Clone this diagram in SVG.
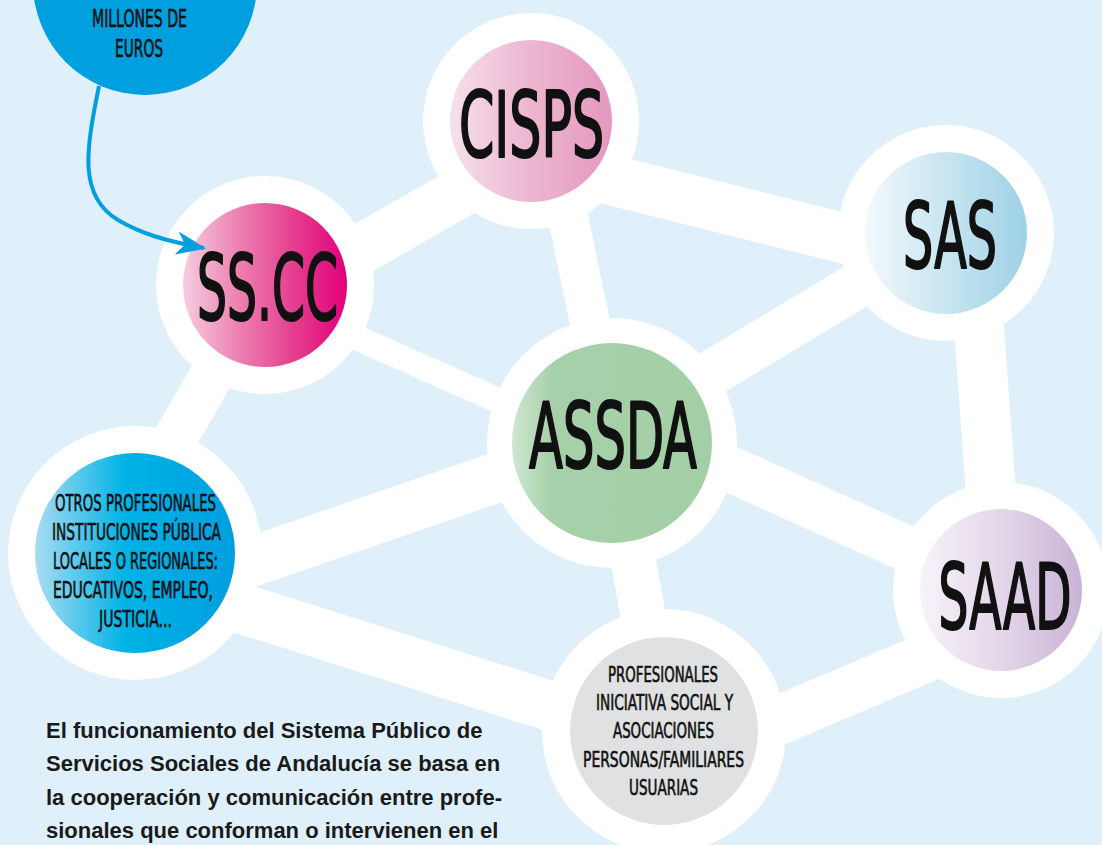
<svg xmlns="http://www.w3.org/2000/svg" width="1102" height="845" viewBox="0 0 1102 845">
<defs>
<linearGradient id="gCisps" x1="0" y1="0" x2="1" y2="0"><stop offset="0" stop-color="#f6e0eb"/><stop offset="0.5" stop-color="#ecb6d0"/><stop offset="1" stop-color="#e498be"/></linearGradient>
<linearGradient id="gSas" x1="0" y1="0" x2="1" y2="0"><stop offset="0" stop-color="#f3f9fc"/><stop offset="0.5" stop-color="#c8e5f0"/><stop offset="1" stop-color="#9ed1e6"/></linearGradient>
<linearGradient id="gSscc" x1="0" y1="0" x2="1" y2="0"><stop offset="0" stop-color="#f6cde0"/><stop offset="0.35" stop-color="#ec7eb0"/><stop offset="0.7" stop-color="#e43a8c"/><stop offset="1" stop-color="#e1007a"/></linearGradient>
<linearGradient id="gAssda" x1="0" y1="0" x2="1" y2="0"><stop offset="0" stop-color="#cfe6cf"/><stop offset="0.2" stop-color="#a6d0a9"/><stop offset="1" stop-color="#a3cfa6"/></linearGradient>
<linearGradient id="gOtros" x1="0" y1="0" x2="1" y2="0"><stop offset="0" stop-color="#a8dcf2"/><stop offset="0.45" stop-color="#00b3e6"/><stop offset="1" stop-color="#009ee0"/></linearGradient>
<linearGradient id="gSaad" x1="0" y1="0" x2="1" y2="0"><stop offset="0" stop-color="#f7f3f9"/><stop offset="0.5" stop-color="#e3d6e9"/><stop offset="1" stop-color="#c9b3d7"/></linearGradient>
<marker id="arrow" markerUnits="userSpaceOnUse" markerWidth="30" markerHeight="24" viewBox="0 0 28 22" refX="26" refY="11" orient="auto">
<path d="M0,0 L28,11 L0,22 L8,11 Z" fill="#009fe0"/>
</marker>
</defs>
<style>
.ring{fill:#ffffff}
.band{stroke:#ffffff;stroke-linecap:butt;fill:none}
.big{font-family:"DejaVu Sans Condensed","Liberation Sans",sans-serif;font-size:91px;fill:#111111;stroke:#111111;stroke-width:2.2px;stroke-linejoin:round;text-anchor:middle}
.small{font-family:"DejaVu Sans Condensed","Liberation Sans",sans-serif;fill:#111111;stroke:#111111;stroke-width:0.6px;text-anchor:middle}
.para{font-family:"Liberation Sans",Arial,sans-serif;font-weight:bold;font-size:22px;fill:#1a1a1a}
</style>
<rect x="0" y="0" width="1102" height="845" fill="#dff0fa"/>
<g id="connectors">
<line class="band" x1="265" y1="304" x2="531" y2="152" stroke-width="50"/>
<line class="band" x1="265" y1="297" x2="612" y2="451" stroke-width="25"/>
<line class="band" x1="264" y1="285" x2="109" y2="553" stroke-width="44"/>
<line class="band" x1="531" y1="160" x2="946" y2="264" stroke-width="50"/>
<line class="band" x1="548" y1="121" x2="615" y2="443" stroke-width="40"/>
<line class="band" x1="946" y1="232" x2="612" y2="433" stroke-width="46"/>
<line class="band" x1="972" y1="233" x2="998" y2="590" stroke-width="50"/>
<line class="band" x1="612" y1="416" x2="1001" y2="591" stroke-width="46"/>
<line class="band" x1="612" y1="438" x2="140" y2="600" stroke-width="50"/>
<line class="band" x1="612" y1="443" x2="664" y2="731" stroke-width="45"/>
<line class="band" x1="135" y1="575" x2="664" y2="742" stroke-width="50"/>
<line class="band" x1="664" y1="769" x2="1001" y2="626" stroke-width="49"/>
</g>
<g id="node-millones">
<circle cx="145" cy="-17" r="112" fill="#009fe0"/>
<text class="small" x="139.5" y="27" font-size="24" textLength="95" lengthAdjust="spacingAndGlyphs">MILLONES DE</text>
<text class="small" x="139" y="56.5" font-size="24" textLength="48" lengthAdjust="spacingAndGlyphs">EUROS</text>
</g>
<g id="node-cisps">
<circle class="ring" cx="531" cy="121" r="108"/>
<circle cx="531" cy="121" r="81" fill="url(#gCisps)"/>
<text class="big" transform="translate(531.5 157) scale(0.6 1)" x="0" y="0" textLength="241.7" lengthAdjust="spacingAndGlyphs">CISPS</text>
</g>
<g id="node-sas">
<circle class="ring" cx="946" cy="233" r="108"/>
<circle cx="946" cy="233" r="81" fill="url(#gSas)"/>
<text class="big" transform="translate(950 268) scale(0.6 1)" x="0" y="0" textLength="156.7" lengthAdjust="spacingAndGlyphs">SAS</text>
</g>
<g id="node-sscc">
<circle class="ring" cx="265" cy="285" r="109"/>
<circle cx="265" cy="285" r="82" fill="url(#gSscc)"/>
<text class="big" transform="translate(267.5 320) scale(0.6 1)" x="0" y="0" textLength="235" lengthAdjust="spacingAndGlyphs">SS.CC</text>
</g>
<g id="node-assda">
<circle class="ring" cx="612" cy="443" r="125"/>
<circle cx="612" cy="443" r="100" fill="url(#gAssda)"/>
<text class="big" transform="translate(613 468) scale(0.6 1)" x="0" y="0" textLength="280" lengthAdjust="spacingAndGlyphs">ASSDA</text>
</g>
<g id="node-otros">
<circle class="ring" cx="135" cy="553" r="127"/>
<circle cx="135" cy="553" r="100" fill="url(#gOtros)"/>
<text class="small" font-size="23" x="135.5" y="511" textLength="161" lengthAdjust="spacingAndGlyphs">OTROS PROFESIONALES</text>
<text class="small" font-size="23" x="136.5" y="540" textLength="169" lengthAdjust="spacingAndGlyphs">INSTITUCIONES PÚBLICA</text>
<text class="small" font-size="23" x="135.5" y="569" textLength="165" lengthAdjust="spacingAndGlyphs">LOCALES O REGIONALES:</text>
<text class="small" font-size="23" x="133" y="598" textLength="160" lengthAdjust="spacingAndGlyphs">EDUCATIVOS, EMPLEO,</text>
<text class="small" font-size="23" x="135.5" y="627" textLength="73" lengthAdjust="spacingAndGlyphs">JUSTICIA...</text>
</g>
<g id="node-saad">
<circle class="ring" cx="1001" cy="590" r="108"/>
<circle cx="1001" cy="590" r="81" fill="url(#gSaad)"/>
<text class="big" transform="translate(1005 629) scale(0.6 1)" x="0" y="0" textLength="221.7" lengthAdjust="spacingAndGlyphs">SAAD</text>
</g>
<g id="node-profesionales">
<circle class="ring" cx="664" cy="731" r="122"/>
<circle cx="664" cy="731" r="94" fill="#e0e1e3"/>
<text class="small" font-size="21" x="663" y="682" textLength="110" lengthAdjust="spacingAndGlyphs">PROFESIONALES</text>
<text class="small" font-size="21" x="664.5" y="710" textLength="137" lengthAdjust="spacingAndGlyphs">INICIATIVA SOCIAL Y</text>
<text class="small" font-size="21" x="663.5" y="738" textLength="101" lengthAdjust="spacingAndGlyphs">ASOCIACIONES</text>
<text class="small" font-size="21" x="663.5" y="767" textLength="161" lengthAdjust="spacingAndGlyphs">PERSONAS/FAMILIARES</text>
<text class="small" font-size="21" x="663.5" y="795" textLength="69" lengthAdjust="spacingAndGlyphs">USUARIAS</text>
</g>
<g id="arrow-connector">
<path d="M99,86 C86,150 78,196 118,220 C140,233 165,241 204,248" fill="none" stroke="#009fe0" stroke-width="4" marker-end="url(#arrow)"/>
</g>
<g id="caption">
<text class="para" x="46" y="738">El funcionamiento del Sistema Público de</text>
<text class="para" x="46" y="771">Servicios Sociales de Andalucía se basa en</text>
<text class="para" x="46" y="805">la cooperación y comunicación entre profe-</text>
<text class="para" x="46" y="838">sionales que conforman o intervienen en el</text>
</g>
</svg>
